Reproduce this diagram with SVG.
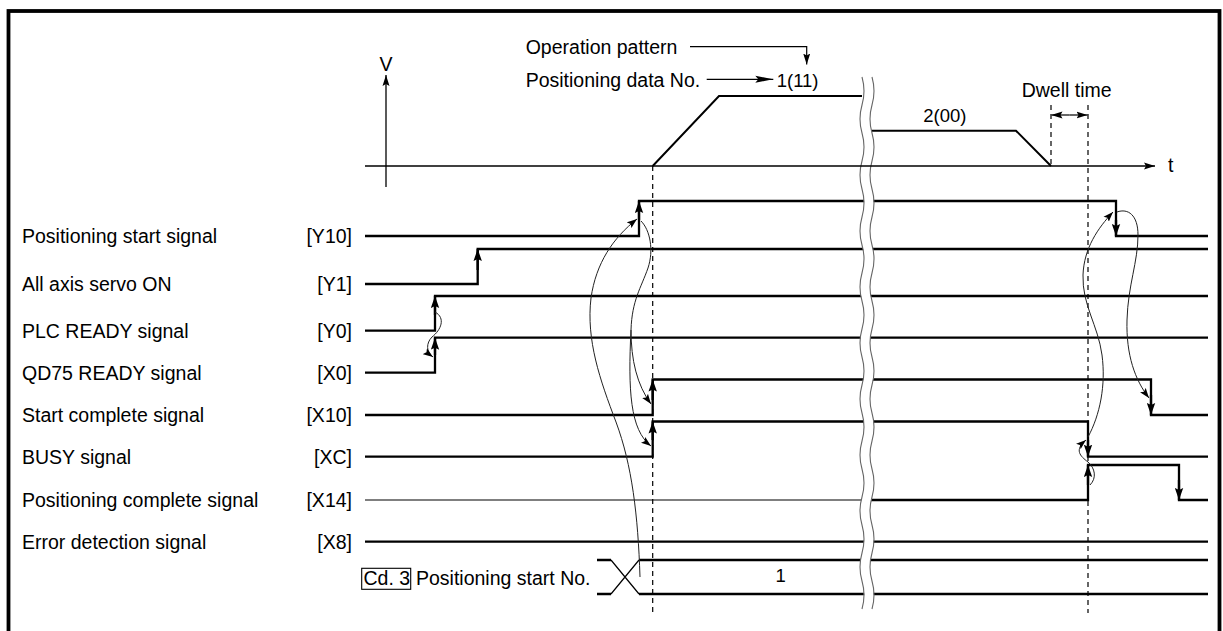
<svg xmlns="http://www.w3.org/2000/svg" width="1223" height="631" viewBox="0 0 1223 631">
<style>
text{font-family:"Liberation Sans",Arial,sans-serif;font-size:19.5px;fill:#000}
.num{font-size:18.5px}
.sig{fill:none;stroke:#000;stroke-width:2.3;stroke-linejoin:miter}
.thin{fill:none;stroke:#000;stroke-width:1.2}
.axis{fill:none;stroke:#000;stroke-width:1.3}
.prof{fill:none;stroke:#000;stroke-width:2}
.dash{fill:none;stroke:#000;stroke-width:1.2;stroke-dasharray:5 4}
.cv{fill:none;stroke:#222;stroke-width:1}
.wave{fill:none;stroke:#666;stroke-width:1.1}
</style>
<defs>
<marker id="ah" viewBox="-12 -4.5 12 9" refX="0" refY="0" markerWidth="12" markerHeight="9" orient="auto" markerUnits="userSpaceOnUse"><path d="M0,0 L-12,-4.2 L-10,0 L-12,4.2 Z" fill="#000"/></marker>
<marker id="as" viewBox="-10 -4 10 8" refX="0" refY="0" markerWidth="10" markerHeight="8" orient="auto" markerUnits="userSpaceOnUse"><path d="M0,0 L-10,-3.6 L-8,0 L-10,3.6 Z" fill="#000"/></marker>
<marker id="aa" viewBox="-11 -4 11 8" refX="0" refY="0" markerWidth="11" markerHeight="8" orient="auto" markerUnits="userSpaceOnUse"><path d="M0,0 L-11,-3.5 L-9,0 L-11,3.5 Z" fill="#000"/></marker>
<marker id="al" viewBox="-18 -4 18 8" refX="0" refY="0" markerWidth="18" markerHeight="8" orient="auto" markerUnits="userSpaceOnUse"><path d="M0,0 L-18,-3.5 L-15,0 L-18,3.5 Z" fill="#000"/></marker>
</defs>

<rect id="frame" x="8.5" y="11" width="1211" height="660" fill="none" stroke="#000" stroke-width="3.8"/>

<g id="velocity-graph">
<path class="axis" d="M386,187 V75" marker-end="url(#aa)"/>
<text x="386" y="70.5" text-anchor="middle">V</text>
<path class="prof" d="M652.7,166 L719,96 H862"/>
<path class="prof" d="M872,130.7 H1016 L1051,166"/>
<text x="525.7" y="54">Operation pattern</text>
<path class="thin" d="M690,46.7 H806.7 V64.5" marker-end="url(#aa)"/>
<text x="525.7" y="86.7">Positioning data No.</text>
<path class="thin" d="M706.7,79.3 H773.3" marker-end="url(#al)"/>
<text class="num" x="776.7" y="86.7">1(11)</text>
<text class="num" x="923.3" y="121.7">2(00)</text>
<text x="1021.7" y="96.5">Dwell time</text>
<path class="thin" d="M1069.5,115 H1051.5" marker-end="url(#aa)"/>
<path class="thin" d="M1069.5,115 H1087.5" marker-end="url(#aa)"/>
<text x="1168" y="172">t</text>
</g>

<g id="dashed-lines">
<path class="dash" d="M652.7,166 V613"/>
<path class="dash" d="M1051,105 V166"/>
<path class="dash" d="M1088,105 V613"/>
</g>

<g id="labels">
<text x="22" y="243">Positioning start signal</text>
<text x="352" y="243" text-anchor="end">[Y10]</text>
<text x="22" y="291">All axis servo ON</text>
<text x="352" y="291" text-anchor="end">[Y1]</text>
<text x="22" y="337.7">PLC READY signal</text>
<text x="352" y="337.7" text-anchor="end">[Y0]</text>
<text x="22" y="379.7">QD75 READY signal</text>
<text x="352" y="379.7" text-anchor="end">[X0]</text>
<text x="22" y="422">Start complete signal</text>
<text x="352" y="422" text-anchor="end">[X10]</text>
<text x="22" y="463.7">BUSY signal</text>
<text x="352" y="463.7" text-anchor="end">[XC]</text>
<text x="22" y="507">Positioning complete signal</text>
<text x="352" y="507" text-anchor="end">[X14]</text>
<text x="22" y="548.7">Error detection signal</text>
<text x="352" y="548.7" text-anchor="end">[X8]</text>
<rect x="361.7" y="568.3" width="49" height="21" fill="none" stroke="#000" stroke-width="1.1"/>
<text x="363.5" y="585">Cd. 3</text>
<text x="416" y="585">Positioning start No.</text>
</g>

<g id="signal-Y10">
<path class="sig" d="M365,236 H639 V201 H1116 V236 H1208"/>
<path class="sig" d="M639,220 V201" marker-end="url(#ah)"/>
<path class="sig" d="M1116,220 V236" marker-end="url(#ah)"/>
</g>
<g id="signal-Y1">
<path class="sig" d="M365,284 H477.7 V249 H1208"/>
<path class="sig" d="M477.7,270 V249" marker-end="url(#ah)"/>
</g>
<g id="signal-Y0">
<path class="sig" d="M365,330.7 H435 V296 H1208"/>
<path class="sig" d="M435,315 V296" marker-end="url(#ah)"/>
</g>
<g id="signal-X0">
<path class="sig" d="M365,372.7 H435 V337.7 H1208"/>
<path class="sig" d="M435,355 V337.7" marker-end="url(#ah)"/>
</g>
<g id="signal-X10">
<path class="sig" d="M365,415 H652.7 V379.5 H1151 V415 H1208"/>
<path class="sig" d="M652.7,400 V379.5" marker-end="url(#ah)"/>
<path class="sig" d="M1151,395 V415" marker-end="url(#ah)"/>
</g>
<g id="signal-XC">
<path class="sig" d="M365,456.7 H652.7 V421.5 H1088 V456.7 H1208"/>
<path class="sig" d="M652.7,440 V421.5" marker-end="url(#ah)"/>
<path class="sig" d="M1088,440 V456.7" marker-end="url(#ah)"/>
</g>
<g id="signal-X14">
<path class="thin" d="M365,500 H866"/>
<path class="sig" d="M866,500 H1088 V465 H1179 V500 H1208"/>
<path class="sig" d="M1088,485 V465" marker-end="url(#ah)"/>
<path class="sig" d="M1179,480 V500" marker-end="url(#ah)"/>
</g>
<g id="signal-X8">
<path class="sig" d="M365,541.7 H1208"/>
</g>
<g id="signal-Cd3">
<path class="sig" d="M597,560 H611 M639,560 H1208 M597,594 H611 M639,594 H1208"/>
<path class="thin" d="M611,560 L639,594 M611,594 L639,560"/>
<text class="num" x="780.7" y="582" text-anchor="middle">1</text>
</g>

<g id="break">
<path d="M867,77 q4,14 0,28 t0,28 t0,28 t0,28 t0,28 t0,28 t0,28 t0,28 t0,28 t0,28 t0,28 t0,28 t0,28 t0,28 t0,28 t0,28 t0,28 t0,28 t0,28" fill="none" stroke="#fff" stroke-width="9.5"/>
<path class="wave" d="M862,77 q4,14 0,28 t0,28 t0,28 t0,28 t0,28 t0,28 t0,28 t0,28 t0,28 t0,28 t0,28 t0,28 t0,28 t0,28 t0,28 t0,28 t0,28 t0,28 t0,28"/>
<path class="wave" d="M872,77 q4,14 0,28 t0,28 t0,28 t0,28 t0,28 t0,28 t0,28 t0,28 t0,28 t0,28 t0,28 t0,28 t0,28 t0,28 t0,28 t0,28 t0,28 t0,28 t0,28"/>
</g>

<path id="t-axis" class="axis" d="M365,166 H1155" marker-end="url(#aa)"/>

<g id="connectors">
<path class="cv" d="M435,312 C446,318 441,330 432,337 C426,343 426,352 433,357" marker-end="url(#as)"/>
<path class="cv" d="M640,577 C638,515 632,465 616,422 C600,380 586,340 591,298 C596,263 613,238 637,219" marker-end="url(#as)"/>
<path class="cv" d="M641,221 C650,230 654,250 648,268 C641,288 632,300 631,330 C631,360 637,385 651,404" marker-end="url(#as)"/>
<path class="cv" d="M631,330 C628,390 630,430 651,446" marker-end="url(#as)"/>
<path class="cv" d="M1088,437 C1100,415 1106,385 1102,355 C1098,325 1082,305 1083,275 C1084,248 1098,228 1113,212" marker-end="url(#as)"/>
<path class="cv" d="M1117,212 C1128,208 1138,215 1138,235 C1138,262 1128,285 1127,320 C1126,355 1135,380 1149,398" marker-end="url(#as)"/>
<path class="cv" d="M1090,485 C1097,478 1095,468 1088,462 C1080,456 1074,450 1086,440" marker-end="url(#as)"/>
</g>
</svg>
